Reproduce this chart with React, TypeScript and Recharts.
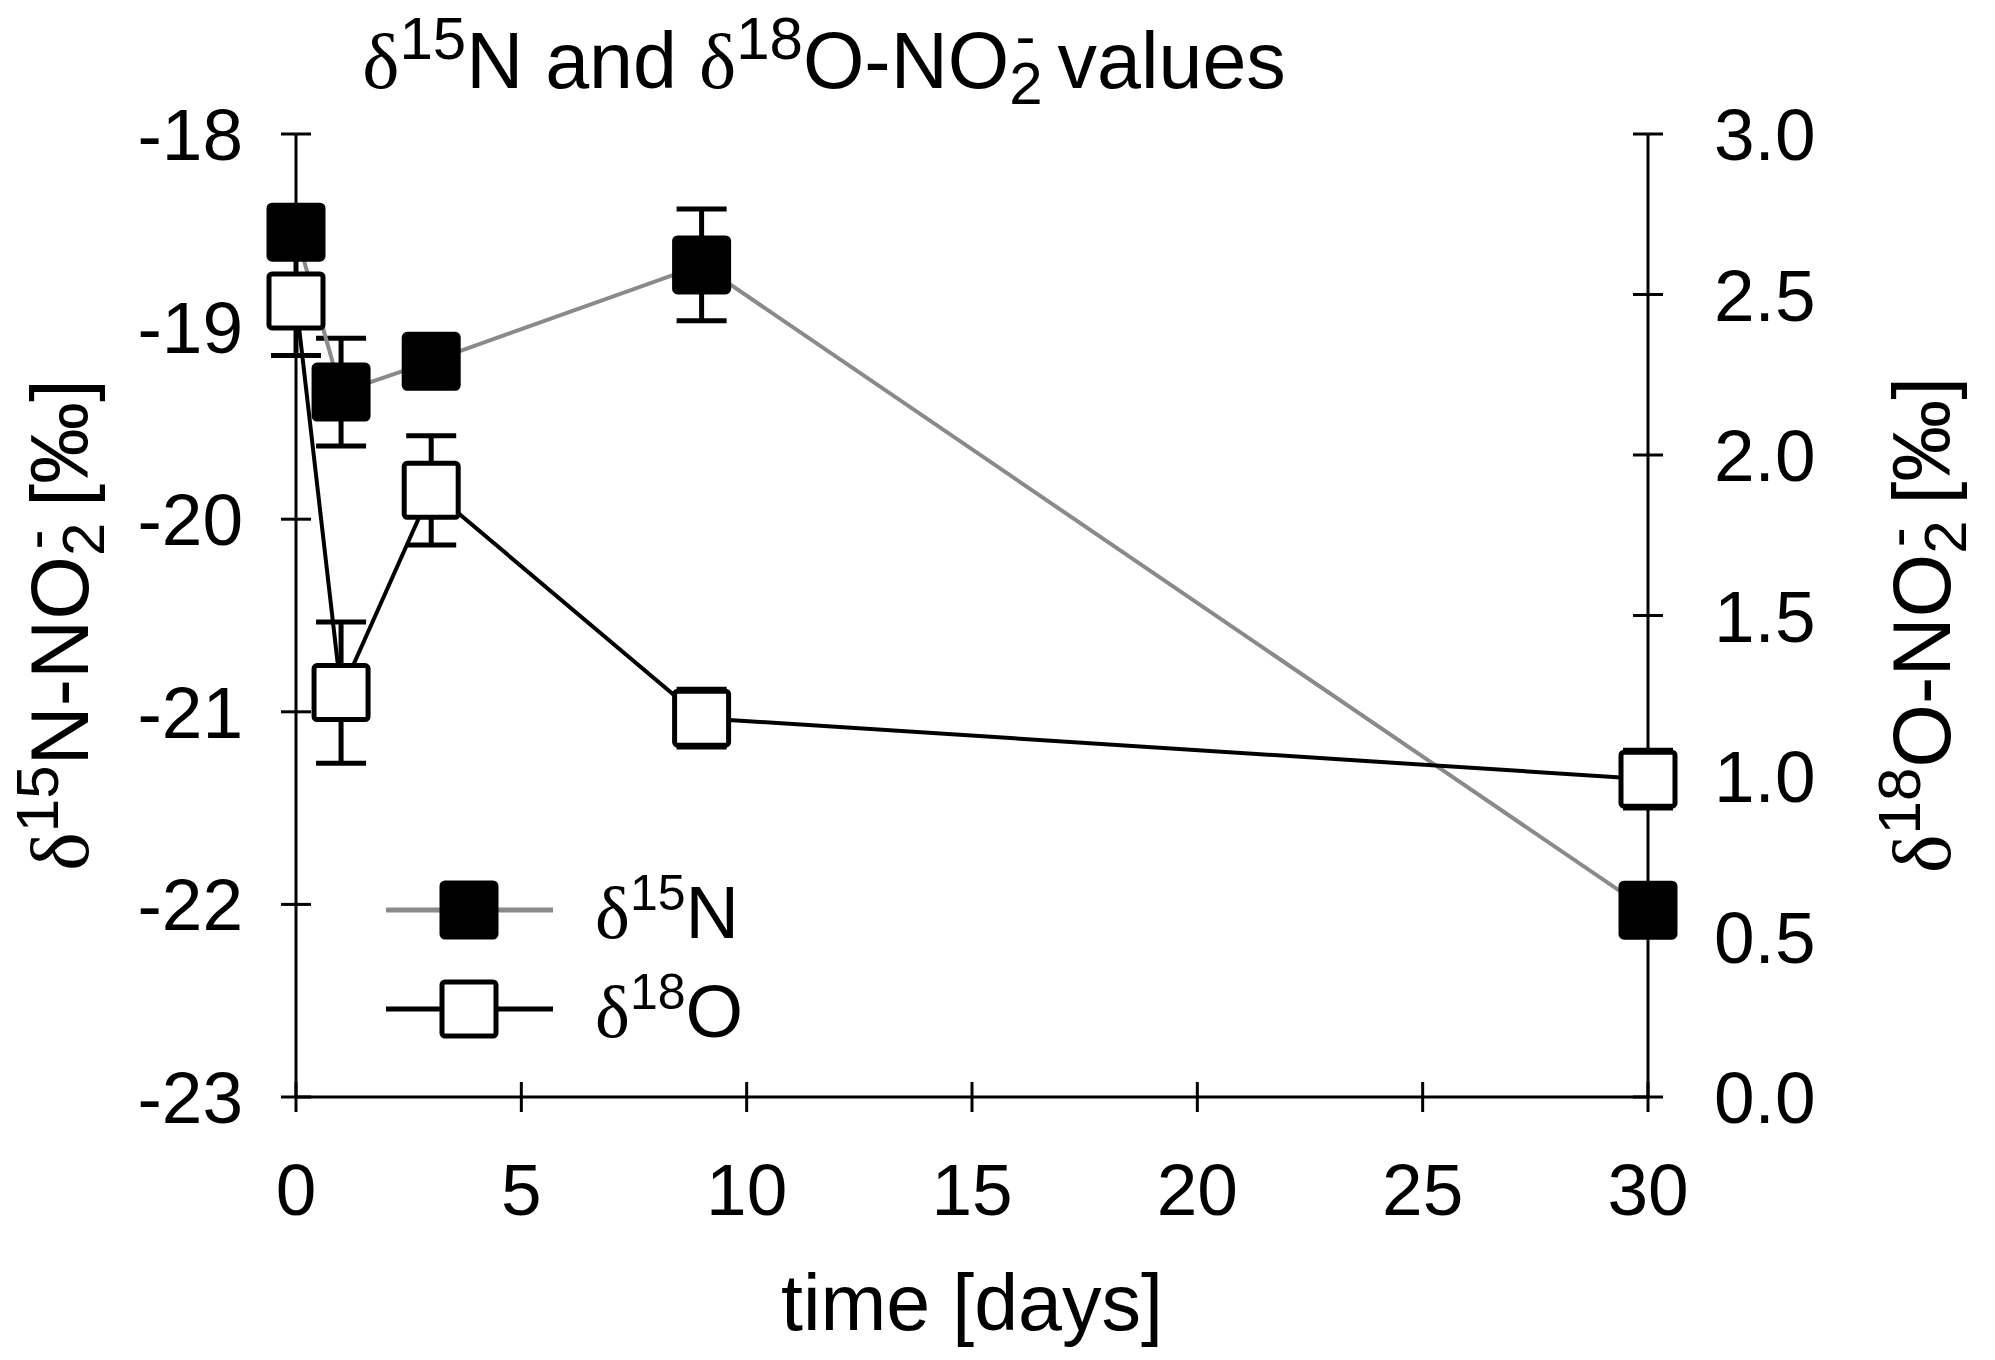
import React from "react";
import { LineChart, Line, XAxis, YAxis, ErrorBar, CartesianGrid, Customized } from "recharts";

// sampling days
const days = [0, 1, 3, 9, 30];
// δ15N-NO2- (left axis, ‰) with standard deviation
const n15Values = [-18.51, -19.34, -19.18, -18.68, -22.03];
const n15Errors = [0.1, 0.28, 0.1, 0.29, 0.1];
// δ18O-NO2- (right axis, ‰) with standard deviation
const o18Values = [2.48, 1.26, 1.89, 1.18, 0.99];
const o18Errors = [0.17, 0.22, 0.17, 0.09, 0.09];

const xTicks = [0, 5, 10, 15, 20, 25, 30];
const leftTicks = [-23, -22, -21, -20, -19, -18];
const rightTicks = [0, 0.5, 1, 1.5, 2, 2.5, 3];

const FONT = "'Liberation Sans', Arial, sans-serif";
const SERIF = "'Liberation Serif', 'Times New Roman', serif";
const GRAY = "#8a8a8a";
const TICK = 15;
const LEFT_GAP = 38;
const RIGHT_GAP = 51;
const BOTTOM_GAP = 51;
const TICK_FONT = 73;

const data = days.map((day, i) => ({
  day,
  n15: n15Values[i],
  n15Err: n15Errors[i],
  o18: o18Values[i],
  o18Err: o18Errors[i],
}));

const squareDot = (filled: boolean) => (props: any) => {
  const { cx, cy, index } = props;
  if (cx == null || cy == null) return <g key={index} />;
  return (
    <rect
      key={index}
      x={cx - 27}
      y={cy - 27}
      width={54}
      height={54}
      rx={3}
      fill={filled ? "#000" : "#fff"}
      stroke="#000"
      strokeWidth={5}
    />
  );
};

// tick marks crossing the axes, drawn through the grid so markers cover them
const leftMarks = (p: any) => (
  <line key={p.key ?? `l${p.index}`} x1={p.x1 - TICK} x2={p.x1 + TICK} y1={p.y1} y2={p.y1} stroke="#000" strokeWidth={3} />
);
const rightMarks = (p: any) => (
  <line key={p.key ?? `r${p.index}`} x1={p.x2 - TICK} x2={p.x2 + TICK} y1={p.y2} y2={p.y2} stroke="#000" strokeWidth={3} />
);
const bottomMarks = (p: any) => (
  <line key={p.key ?? `b${p.index}`} x1={p.x2} x2={p.x2} y1={p.y2 - TICK} y2={p.y2 + TICK} stroke="#000" strokeWidth={3} />
);

const LeftTick = ({ x, y, payload }: any) => (
  <text x={x} y={y + 26} textAnchor="end" fontSize={TICK_FONT} fontFamily={FONT} fill="#000">
    {payload.value}
  </text>
);

const RightTick = ({ x, y, payload }: any) => (
  <text x={x} y={y + 26} textAnchor="start" fontSize={TICK_FONT} fontFamily={FONT} fill="#000">
    {Number(payload.value).toFixed(1)}
  </text>
);

const BottomTick = ({ x, y, payload }: any) => (
  <text x={x} y={y + 52} textAnchor="middle" fontSize={TICK_FONT} fontFamily={FONT} fill="#000">
    {payload.value}
  </text>
);

// title, axis titles and legend
const Annotations = () => (
  <g fontFamily={FONT} fill="#000" style={{ whiteSpace: "pre" }}>
    <text x={824} y={88} textAnchor="middle" fontSize={79}>
      <tspan fontFamily={SERIF}>δ</tspan>
      <tspan fontSize={60} dy={-29}>15</tspan>
      <tspan dy={29}>N and </tspan>
      <tspan fontFamily={SERIF}>δ</tspan>
      <tspan fontSize={60} dy={-29}>18</tspan>
      <tspan dy={29}>O-NO</tspan>
      <tspan fontSize={60} dy={16}>2</tspan>
      <tspan fontSize={60} dx={-27} dy={-48}>-</tspan>
      <tspan dy={32}>{"  values"}</tspan>
    </text>

    <text transform="translate(88,625) rotate(-90)" textAnchor="middle" fontSize={82}>
      <tspan fontFamily={SERIF}>δ</tspan>
      <tspan fontSize={60} dy={-30}>15</tspan>
      <tspan dy={30}>N-NO</tspan>
      <tspan fontSize={60} dy={16}>2</tspan>
      <tspan fontSize={60} dx={-27} dy={-49}>-</tspan>
      <tspan dy={33}>{"  [‰]"}</tspan>
    </text>

    <text transform="translate(1950,625) rotate(-90)" textAnchor="middle" fontSize={82}>
      <tspan fontFamily={SERIF}>δ</tspan>
      <tspan fontSize={60} dy={-30}>18</tspan>
      <tspan dy={30}>O-NO</tspan>
      <tspan fontSize={60} dy={16}>2</tspan>
      <tspan fontSize={60} dx={-27} dy={-49}>-</tspan>
      <tspan dy={33}>{"  [‰]"}</tspan>
    </text>

    <text x={972} y={1330} textAnchor="middle" fontSize={79}>
      time [days]
    </text>

    <line x1={386} x2={553} y1={910} y2={910} stroke={GRAY} strokeWidth={5} />
    <rect x={442} y={883} width={54} height={54} rx={3} fill="#000" stroke="#000" strokeWidth={5} />
    <text x={595} y={938} fontSize={74}>
      <tspan fontFamily={SERIF}>δ</tspan>
      <tspan fontSize={50} dy={-28}>15</tspan>
      <tspan dy={28}>N</tspan>
    </text>

    <line x1={386} x2={553} y1={1009} y2={1009} stroke="#000" strokeWidth={5} />
    <rect x={442} y={982} width={54} height={54} rx={3} fill="#fff" stroke="#000" strokeWidth={5} />
    <text x={595} y={1037} fontSize={74}>
      <tspan fontFamily={SERIF}>δ</tspan>
      <tspan fontSize={50} dy={-28}>18</tspan>
      <tspan dy={28}>O</tspan>
    </text>
  </g>
);

export default function App() {
  return (
    <div style={{ position: "absolute", left: 0, top: 0, width: 1995, height: 1360, background: "#fff" }}>
      <LineChart
        width={1995}
        height={1360}
        data={data}
        margin={{ top: 134, right: 247, bottom: 163, left: 196 }}
      >
        <CartesianGrid yAxisId="left" vertical={false} horizontal={leftMarks} />
        <CartesianGrid yAxisId="right" vertical={false} horizontal={rightMarks} />
        <CartesianGrid yAxisId="left" horizontal={false} vertical={bottomMarks} />
        <XAxis
          dataKey="day"
          type="number"
          domain={[0, 30]}
          ticks={xTicks}
          height={100}
          tickSize={TICK}
          tickMargin={BOTTOM_GAP}
          tickLine={false}
          tick={<BottomTick />}
          axisLine={{ stroke: "#000", strokeWidth: 3 }}
        />
        <XAxis
          xAxisId="top"
          orientation="top"
          type="number"
          domain={[0, 30]}
          height={0}
          tick={false}
          tickLine={false}
          axisLine={{ stroke: "#000", strokeWidth: 3 }}
        />
        <YAxis
          yAxisId="left"
          orientation="left"
          type="number"
          domain={[-23, -18]}
          ticks={leftTicks}
          width={100}
          tickSize={TICK}
          tickMargin={LEFT_GAP}
          tickLine={false}
          tick={<LeftTick />}
          axisLine={{ stroke: "#000", strokeWidth: 3 }}
        />
        <YAxis
          yAxisId="right"
          orientation="right"
          type="number"
          domain={[0, 3]}
          ticks={rightTicks}
          width={100}
          tickSize={TICK}
          tickMargin={RIGHT_GAP}
          tickLine={false}
          tick={<RightTick />}
          axisLine={{ stroke: "#000", strokeWidth: 3 }}
        />
        <Line
          yAxisId="left"
          dataKey="n15"
          stroke={GRAY}
          strokeWidth={4}
          dot={squareDot(true)}
          activeDot={false}
          isAnimationActive={false}
        >
          <ErrorBar dataKey="n15Err" direction="y" width={25} stroke="#000" strokeWidth={5} isAnimationActive={false} />
        </Line>
        <Line
          yAxisId="right"
          dataKey="o18"
          stroke="#000"
          strokeWidth={4}
          dot={squareDot(false)}
          activeDot={false}
          isAnimationActive={false}
        >
          <ErrorBar dataKey="o18Err" direction="y" width={25} stroke="#000" strokeWidth={5} isAnimationActive={false} />
        </Line>
        <Customized component={Annotations} />
      </LineChart>
    </div>
  );
}
